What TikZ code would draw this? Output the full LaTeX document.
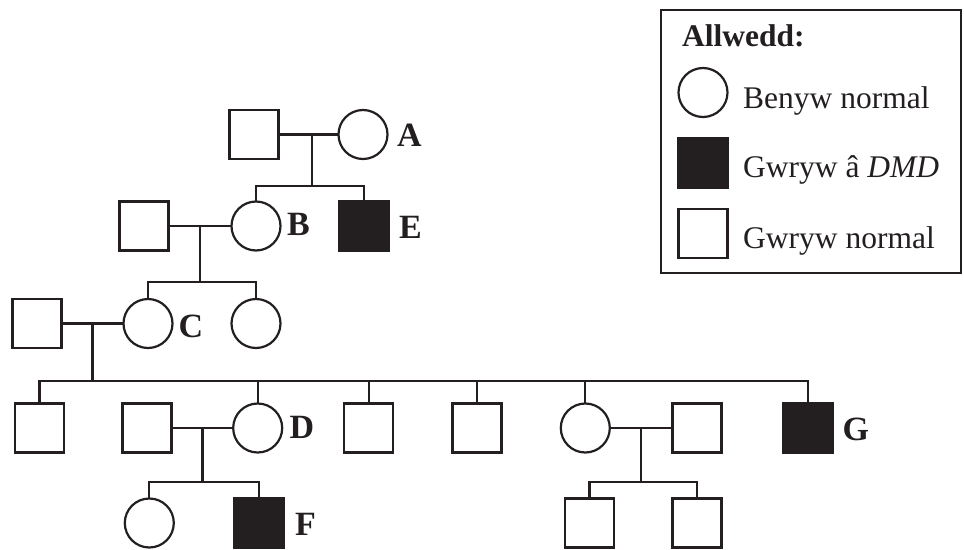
\documentclass[tikz,border=0pt]{standalone}
\usepackage{fontspec}
\setmainfont{Liberation Serif}
\definecolor{ink}{RGB}{35,31,32}
\tikzset{
  male/.style={draw=ink, line width=2.2pt, rectangle, minimum size=49pt, inner sep=0pt, outer sep=0pt},
  female/.style={draw=ink, line width=2.2pt, circle, minimum size=49pt, inner sep=0pt, outer sep=0pt},
  affected/.style={male, fill=ink},
  lbl/.style={font=\fontsize{34}{40}\selectfont\bfseries, anchor=base west, inner sep=0pt, text=ink},
  keytext/.style={font=\fontsize{31.5}{37}\selectfont, anchor=base west, inner sep=0pt, text=ink},
  link/.style={draw=ink, line width=2.2pt},
  keybox/.style={draw=ink, line width=2.2pt, rectangle, inner sep=0pt, outer sep=0pt,
                 minimum width=300pt, minimum height=263pt}
}
\begin{document}
\begin{tikzpicture}[x=1pt,y=-1pt]
\useasboundingbox (0,0) rectangle (964,549);

% ---- generation I
\node[male]   (I1) at (254,134.5) {};
\node[female] (A)  at (363,134.5) {};
\node[lbl] (lA) at (397,146) {A};
\coordinate (jI) at (312,134.5);
\coordinate (sI) at (312,186);

% ---- generation II
\node[male]     (II1) at (144,226) {};
\node[female]   (B)   at (256,226) {};
\node[affected] (E)   at (364,226) {};
\node[lbl] (lB) at (287,235) {B};
\node[lbl] (lE) at (399,238) {E};
\coordinate (jII) at (200,226);
\coordinate (sII) at (200,281.7);

% ---- generation III
\node[male]   (III1) at (37,323.5) {};
\node[female] (C)    at (148,323.5) {};
\node[female] (III3) at (256,323.5) {};
\node[lbl] (lC) at (178.5,337) {C};
\coordinate (jIII) at (92.5,323.5);
\coordinate (sIII) at (92.5,380.7);

% ---- generation IV
\node[male]     (IV1) at (39.5,428) {};
\node[male]     (IV2) at (147,428) {};
\node[female]   (D)   at (257.7,428) {};
\node[male]     (IV4) at (368.7,428) {};
\node[male]     (IV5) at (477,428) {};
\node[female]   (IV6) at (585.3,428) {};
\node[male]     (IV7) at (697,428) {};
\node[affected] (G)   at (808,428) {};
\node[lbl] (lD) at (289.5,438.3) {D};
\node[lbl] (lG) at (842.5,440) {G};
\coordinate (jIVa) at (202.5,428);
\coordinate (sIVa) at (202.5,481.7);
\coordinate (jIVb) at (641,428);
\coordinate (sIVb) at (641,481.7);

% ---- generation V
\node[female]   (V1) at (149.3,523) {};
\node[affected] (F)  at (259,523) {};
\node[male]     (V3) at (589.5,523) {};
\node[male]     (V4) at (697,523) {};
\node[lbl] (lF) at (295,535) {F};

% ---- matings and descent lines
\draw[link] (I1) -- (A);
\draw[link] (jI) -- (sI);
\draw[link] (B.north) -- (B.north |- sI) -- (E.north |- sI) -- (E.north);

\draw[link] (II1) -- (B);
\draw[link] (jII) -- (sII);
\draw[link] (C.north) -- (C.north |- sII) -- (III3.north |- sII) -- (III3.north);

\draw[link] (III1) -- (C);
\draw[link] (jIII) -- (sIII);
\draw[link] (IV1.north) -- (IV1.north |- sIII) -- (G.north |- sIII) -- (G.north);
\foreach \k in {D,IV4,IV5,IV6}
  \draw[link] (\k.north) -- (\k.north |- sIII);

\draw[link] (IV2) -- (D);
\draw[link] (jIVa) -- (sIVa);
\draw[link] (V1.north) -- (V1.north |- sIVa) -- (F.north |- sIVa) -- (F.north);

\draw[link] (IV6) -- (IV7);
\draw[link] (jIVb) -- (sIVb);
\draw[link] (V3.north) -- (V3.north |- sIVb) -- (V4.north |- sIVb) -- (V4.north);

% ---- key
\node[keybox] (key) at (811,141.5) {};
\node[keytext, font=\fontsize{31.5}{37}\selectfont\bfseries] (kt) at (682,46.5) {Allwedd:};
\node[female]   (kf) at (703,92.5) {};
\node[affected] (ka) at (703,163) {};
\node[male]     (km) at (703,233.7) {};
\node[keytext] (kft) at (743,108) {Benyw normal};
\node[keytext] (kat) at (743,177.5) {Gwryw â \textit{DMD}};
\node[keytext] (kmt) at (743,248) {Gwryw normal};
\end{tikzpicture}
\end{document}
